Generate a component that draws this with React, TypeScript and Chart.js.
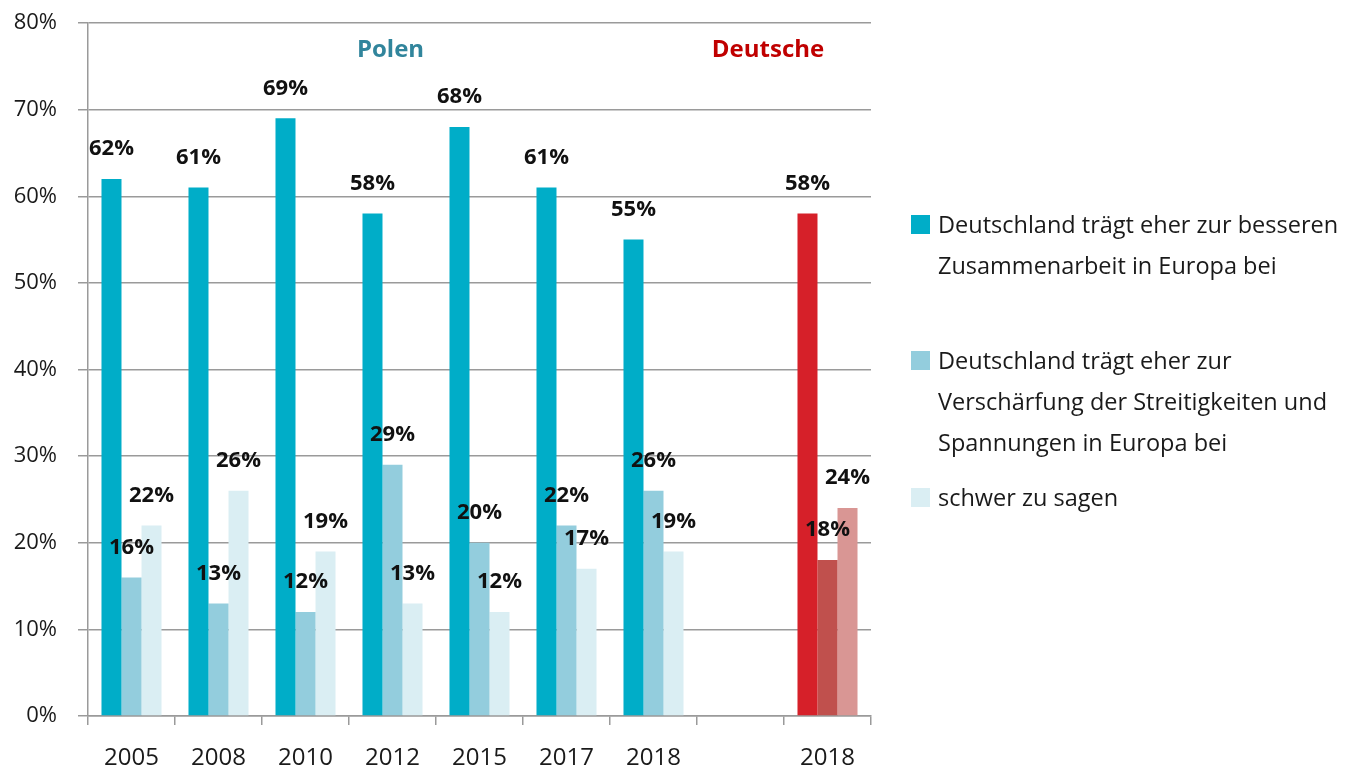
import React, { useEffect, useRef } from "react";
import { Chart, registerables } from "chart.js";

Chart.register(...registerables);

const categories = ["2005", "2008", "2010", "2012", "2015", "2017", "2018", "", "2018"];
const better = [62, 61, 69, 58, 68, 61, 55, null, 58];
const worse = [16, 13, 12, 29, 20, 22, 26, null, 18];
const hard = [22, 26, 19, 13, 12, 17, 19, null, 24];
const yTicks = [0, 10, 20, 30, 40, 50, 60, 70, 80];

const seriesNames = [
  ["Deutschland trägt eher zur besseren", "Zusammenarbeit in Europa bei"],
  ["Deutschland trägt eher zur", "Verschärfung der Streitigkeiten und", "Spannungen in Europa bei"],
  ["schwer zu sagen"],
];

const blue = ["#00ADC8", "#93CDDD", "#DAEEF3"];
const red = ["#D62029", "#C0504D", "#D99694"];
const groupTitles = ["Polen", "Deutsche"];

const FONT = "'Open Sans', 'Noto Sans', sans-serif";

const colorsFor = (i: number) => categories.map((_, k) => (k === 8 ? red[i] : blue[i]));

const labelPlugin = {
  id: "barLabels",
  afterDatasetsDraw(chart: any) {
    const ctx = chart.ctx;
    ctx.save();
    ctx.font = `bold 22px ${FONT}`;
    ctx.fillStyle = "#111";
    ctx.textAlign = "center";
    ctx.textBaseline = "middle";
    chart.data.datasets.forEach((ds: any, di: number) => {
      const meta = chart.getDatasetMeta(di);
      meta.data.forEach((el: any, i: number) => {
        const v = ds.data[i];
        if (v == null) return;
        ctx.fillText(v + "%", el.x, el.y - 30);
      });
    });
    const x = chart.scales.x;
    const area = chart.chartArea;
    ctx.font = `bold 24px ${FONT}`;
    ctx.fillStyle = "#31859C";
    ctx.fillText(groupTitles[0], (x.getPixelForValue(0) + x.getPixelForValue(6)) / 2 - 2, area.top + 27);
    ctx.fillStyle = "#C00000";
    ctx.fillText(groupTitles[1], (x.getPixelForValue(7) + x.getPixelForValue(8)) / 2 - 16, area.top + 27);
    ctx.restore();
  },
};

export default function App() {
  const ref = useRef<HTMLCanvasElement>(null);
  useEffect(() => {
    if (!ref.current) return;
    const grid = "#9A9A9A";
    const chart = new Chart(ref.current, {
      type: "bar",
      data: {
        labels: categories,
        datasets: [better, worse, hard].map((d, i) => ({
          label: seriesNames[i].join(" "),
          data: d,
          backgroundColor: colorsFor(i),
          borderWidth: 0,
          categoryPercentage: 0.69,
          barPercentage: 1.0,
        })),
      },
      options: {
        responsive: false,
        animation: false,
        devicePixelRatio: 1,
        layout: { padding: { left: 0, right: 477, top: 23, bottom: 0 } },
        plugins: { legend: { display: false }, tooltip: { enabled: false } },
        scales: {
          x: {
            grid: { display: true, offset: true, drawOnChartArea: false, drawTicks: true, tickLength: 9, color: grid, lineWidth: 1.5 },
            border: { display: true, color: grid, width: 1.5 },
            ticks: { color: "#1a1a1a", font: { family: FONT, size: 24 }, padding: 19, maxRotation: 0, autoSkip: false },
            afterFit: (s: any) => { s.height = 53; s.paddingLeft = 0; s.paddingRight = 0; },
          },
          y: {
            min: 0,
            max: 80,
            afterBuildTicks: (s: any) => { s.ticks = yTicks.map((v) => ({ value: v })); },
            grid: { color: grid, lineWidth: 1.5, tickLength: 10, drawTicks: true },
            border: { display: true, color: grid, width: 1.5 },
            ticks: { color: "#1a1a1a", font: { family: FONT, size: 22 }, padding: 21, callback: (v: any) => v + "%" },
            afterFit: (s: any) => { s.width = 88; s.paddingTop = 0; s.paddingBottom = 0; },
          },
        },
      },
      plugins: [labelPlugin],
    });
    return () => chart.destroy();
  }, []);

  const lineTops = [[224, 265], [360, 401, 442], [497]];
  return (
    <div style={{ position: "absolute", left: 0, top: 0, width: 1348, height: 769, background: "#fff", fontFamily: FONT }}>
      <canvas ref={ref} width={1348} height={769} style={{ position: "absolute", left: 0, top: 0 }} />
      {seriesNames.map((lines, i) => (
        <React.Fragment key={i}>
          <div style={{ position: "absolute", left: 911, top: lineTops[i][0] - 9, width: 19, height: 19, background: blue[i] }} />
          {lines.map((t, j) => (
            <div key={j} style={{ position: "absolute", left: 938, top: lineTops[i][j] - 20, height: 40, lineHeight: "40px", fontSize: 23.5, color: "#1a1a1a", whiteSpace: "nowrap" }}>
              {t}
            </div>
          ))}
        </React.Fragment>
      ))}
    </div>
  );
}
